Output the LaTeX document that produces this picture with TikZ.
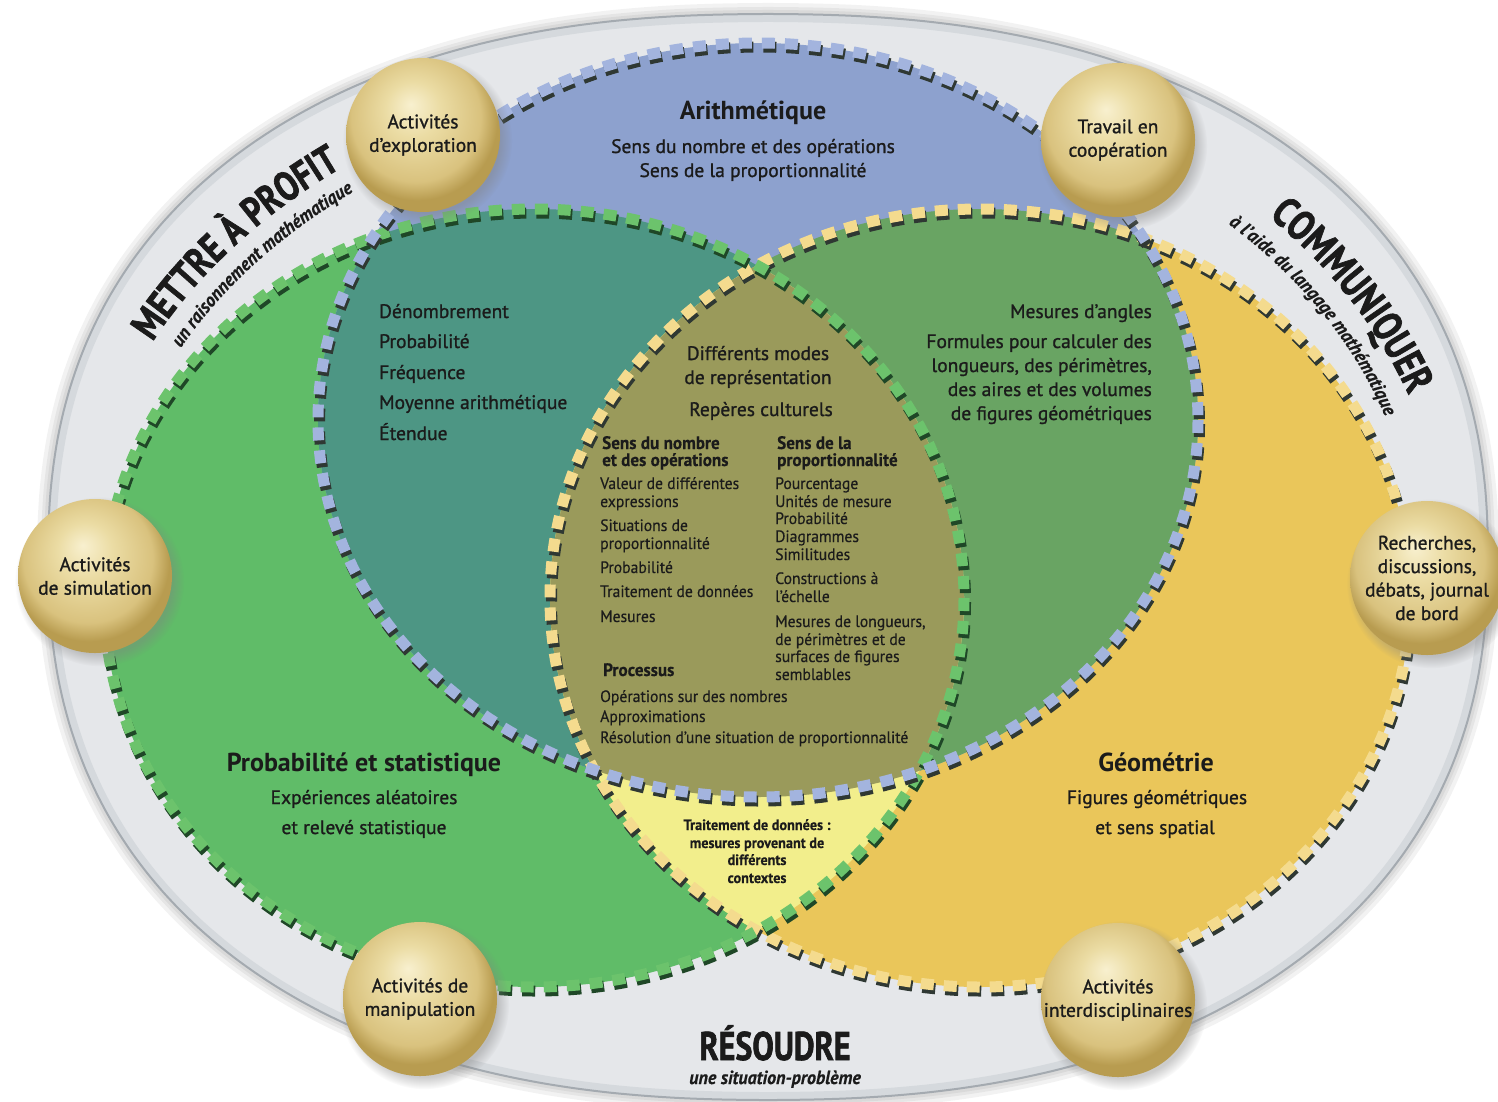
\documentclass[tikz,border=0pt]{standalone}
\usepackage{fontspec}
\setmainfont{PT Sans}
\newfontfamily\medfont{PT Sans}[FakeBold=1.1]
\newfontfamily\condfont{PT Sans}[FakeStretch=0.95,FakeBold=0.4]
\newfontfamily\titlefont{PT Sans}[FakeStretch=0.8,FakeBold=1.6]
\newfontfamily\subfont{PT Sans}[FakeStretch=0.95,FakeBold=0.5]
\usetikzlibrary{decorations.text,shadows}

\definecolor{bandgray}{HTML}{E5E7EA}
\definecolor{bandmid}{HTML}{D5D9DD}
\definecolor{bandrim}{HTML}{A4AAB0}
\definecolor{arblue}{HTML}{8DA1CE}
\definecolor{prgreen}{HTML}{60BC68}
\definecolor{geyellow}{HTML}{EAC65A}
\definecolor{tealmix}{HTML}{4D9684}
\definecolor{midgreen}{HTML}{69A463}
\definecolor{olivemix}{HTML}{9A9A5B}
\definecolor{paleyellow}{HTML}{F2EE8C}
\definecolor{dashblue}{HTML}{A3B4DE}
\definecolor{dashgreen}{HTML}{6CC36C}
\definecolor{dashyellow}{HTML}{F4DB8E}
\definecolor{dashdark}{HTML}{2F3833}
\definecolor{dashdkgreen}{HTML}{1F4727}
\definecolor{ink}{HTML}{1B1B1B}
\definecolor{ballhi}{HTML}{F8F0CF}
\definecolor{ballmid}{HTML}{EBDCA4}
\definecolor{balldk}{HTML}{D9C27E}
\definecolor{balledge}{HTML}{B89C50}

\pgfdeclareradialshading{goldball}{\pgfpoint{-4bp}{10bp}}{color(0bp)=(ballhi); color(9bp)=(ballmid); color(21bp)=(balldk); color(26bp)=(balledge); color(50bp)=(balledge)}

\def\outerP{plot[domain=0:357.5, samples=144, smooth cycle] ({768+720*cos(\x)*pow(abs(cos(\x))+0.001,-0.13)}, {557+543*sin(\x)*pow(abs(sin(\x))+0.001,-0.13)})}
\def\blueE{(758,420) ellipse [x radius=440, y radius=377]}
\def\greenE{(534,598) ellipse [x radius=430, y radius=389]}
\def\yellowE{(980,598) ellipse [x radius=430, y radius=389]}

\tikzset{
  dashshade/.style={draw=#1, line width=11pt, dash pattern=on 13pt off 10pt, shift={(1.5,4)}},
  dashlight/.style={draw=#1, line width=11pt, dash pattern=on 13pt off 10pt},
  ballnode/.style={circle, minimum size=154pt, inner sep=0pt, shade, shading=goldball,
     circular drop shadow={shadow xshift=4pt, shadow yshift=-5pt, opacity=0.4},
     align=center, text=ink, font=\medfont\fontsize{19.5}{23.5}\selectfont},
  head/.style={font=\bfseries\fontsize{26}{26}\selectfont, text=ink, inner sep=0pt, anchor=base},
  midtxt/.style={font=\medfont\fontsize{19.5}{19.5}\selectfont, text=ink, inner sep=0pt, anchor=base},
  smalltxt/.style={font=\condfont\fontsize{16.5}{16.5}\selectfont, text=ink, inner sep=0pt, anchor=base west},
  smallhead/.style={font=\condfont\bfseries\fontsize{18}{18}\selectfont, text=ink, inner sep=0pt, anchor=base west},
  tinytxt/.style={font=\condfont\bfseries\fontsize{15}{15}\selectfont, text=ink, inner sep=0pt, anchor=base},
}

\begin{document}
\begin{tikzpicture}[x=1pt,y=-1pt]
\useasboundingbox (0,0) rectangle (1498,1101);
\fill[white] (0,0) rectangle (1498,1101);

% outer band with soft shadow
\foreach \w in {22,14,8}{\draw[black, opacity=0.05, line width=\w pt] \outerP;}
\begin{scope}
  \clip \outerP;
  \fill[bandgray] \outerP;
  \draw[bandmid, line width=16pt] \outerP;
\end{scope}
\draw[bandrim, line width=2pt] \outerP;

% fills
\fill[prgreen] \greenE;
\fill[geyellow] \yellowE;
\fill[arblue] \blueE;
\begin{scope}\clip \greenE; \fill[tealmix] \blueE;\end{scope}
\begin{scope}\clip \yellowE; \fill[midgreen] \blueE;\end{scope}
\begin{scope}
  \clip \greenE; \clip \yellowE;
  \fill[paleyellow] \yellowE;
  \clip \blueE; \fill[olivemix] \blueE;
\end{scope}

% dashed borders
\draw[dashshade=dashdark] \yellowE;
\draw[dashlight=dashyellow] \yellowE;
\draw[dashshade=dashdkgreen] \greenE;
\draw[dashlight=dashgreen] \greenE;
\draw[dashshade=dashdark] \blueE;
\draw[dashlight=dashblue] \blueE;

% curved titles
\path[decorate, decoration={text along path, text color=ink, text align=center,
  text={|\titlefont\bfseries\fontsize{41}{41}\selectfont|METTRE À PROFIT}}]
  plot[domain=190:244, samples=70] ({768+682*cos(\x)}, {557+499*sin(\x)});
\path[decorate, decoration={text along path, text color=ink, text align=center,
  text={|\subfont\bfseries\itshape\fontsize{19}{19}\selectfont|un raisonnement mathématique}}]
  plot[domain=190:244, samples=70] ({768+655*cos(\x)}, {557+472*sin(\x)});
\path[decorate, decoration={text along path, text color=ink, text align=center,
  text={|\titlefont\bfseries\fontsize{42}{42}\selectfont|COMMUNIQUER}}]
  plot[domain=303:359, samples=70] ({768+676*cos(\x)}, {557+507*sin(\x)});
\path[decorate, decoration={text along path, text color=ink, text align=center,
  text={|\subfont\bfseries\itshape\fontsize{19}{19}\selectfont|à l’aide du langage mathématique}}]
  plot[domain=299:363, samples=70] ({768+646*cos(\x)}, {557+475*sin(\x)});
\node[font=\titlefont\bfseries\fontsize{40}{40}\selectfont, text=ink, anchor=base, inner sep=0pt] (res) at (775,1060) {RÉSOUDRE};
\node[font=\subfont\bfseries\itshape\fontsize{19}{19}\selectfont, text=ink, anchor=base, inner sep=0pt] (res2) at (775,1084) {une situation-problème};

% Arithmetique
\node[head] (arith) at (753,119) {Arithmétique};
\node[midtxt] (arith1) at (753,153) {Sens du nombre et des opérations};
\node[midtxt] (arith2) at (753,177) {Sens de la proportionnalité};

% teal list
\node[midtxt, anchor=base west] (pr1) at (379,318) {Dénombrement};
\node[midtxt, anchor=base west] (pr2) at (379,348) {Probabilité};
\node[midtxt, anchor=base west] (pr3) at (379,379) {Fréquence};
\node[midtxt, anchor=base west] (pr4) at (379,409) {Moyenne arithmétique};
\node[midtxt, anchor=base west] (pr5) at (379,440) {Étendue};

% measures list
\node[midtxt, anchor=base east] (me1) at (1152,318) {Mesures d’angles};
\node[midtxt, anchor=base east] (me2) at (1152,348) {Formules pour calculer des};
\node[midtxt, anchor=base east] (me3) at (1152,372) {longueurs, des périmètres,};
\node[midtxt, anchor=base east] (me4) at (1152,396) {des aires et des volumes};
\node[midtxt, anchor=base east] (me5) at (1152,420) {de figures géométriques};

% lens
\node[midtxt] (le1) at (758,360) {Différents modes};
\node[midtxt] (le2) at (758,384) {de représentation};
\node[midtxt] (le3) at (761,416) {Repères culturels};

\node[smallhead] (lh1) at (602,449) {Sens du nombre};
\node[smallhead] (lh2) at (602,466) {et des opérations};
\node[smallhead] (rh1) at (777,449) {Sens de la};
\node[smallhead] (rh2) at (777,466) {proportionnalité};
\node[smallhead] (ph) at (603,676) {Processus};

\node[smalltxt] (l1) at (600,489) {Valeur de différentes};
\node[smalltxt] (l2) at (600,507) {expressions};
\node[smalltxt] (l3) at (600,531) {Situations de};
\node[smalltxt] (l4) at (600,549) {proportionnalité};
\node[smalltxt] (l5) at (600,573) {Probabilité};
\node[smalltxt] (l6) at (600,597) {Traitement de données};
\node[smalltxt] (l7) at (600,622) {Mesures};

\node[smalltxt] (r1) at (775,489) {Pourcentage};
\node[smalltxt] (r2) at (775,507) {Unités de mesure};
\node[smalltxt] (r3) at (775,524) {Probabilité};
\node[smalltxt] (r4) at (775,542) {Diagrammes};
\node[smalltxt] (r5) at (775,560) {Similitudes};
\node[smalltxt] (r6) at (775,584) {Constructions à};
\node[smalltxt] (r7) at (775,602) {l’échelle};
\node[smalltxt] (r8) at (775,627) {Mesures de longueurs,};
\node[smalltxt] (r9) at (775,645) {de périmètres et de};
\node[smalltxt] (r10) at (775,662) {surfaces de figures};
\node[smalltxt] (r11) at (775,680) {semblables};

\node[smalltxt] (p1) at (600,702) {Opérations sur des nombres};
\node[smalltxt] (p2) at (600,722) {Approximations};
\node[smalltxt] (p3) at (600,743) {Résolution d’une situation de proportionnalité};

% pale yellow
\node[tinytxt] (ty1) at (757,830) {Traitement de données :};
\node[tinytxt] (ty2) at (757,848) {mesures provenant de};
\node[tinytxt] (ty3) at (757,865) {différents};
\node[tinytxt] (ty4) at (757,883) {contextes};

% green & yellow
\node[head] (prob) at (364,771) {Probabilité et statistique};
\node[midtxt] (prob1) at (364,804) {Expériences aléatoires};
\node[midtxt] (prob2) at (364,834) {et relevé statistique};
\node[head] (geo) at (1156,771) {Géométrie};
\node[midtxt] (geo1) at (1157,804) {Figures géométriques};
\node[midtxt] (geo2) at (1155,834) {et sens spatial};

% balls
\node[ballnode] (bexplo) at (423,135) {Activités\\d’exploration};
\node[ballnode] (bcoop) at (1118,140) {Travail en\\coopération};
\node[ballnode] (bsimu) at (95,576) {Activités\\de simulation};
\node[ballnode] (brech) at (1427,578) {Recherches,\\discussions,\\débats, journal\\de bord};
\node[ballnode] (bmani) at (420,999) {Activités de\\manipulation};
\node[ballnode] (binter) at (1118,1000) {Activités\\interdisciplinaires};
\end{tikzpicture}
\end{document}
